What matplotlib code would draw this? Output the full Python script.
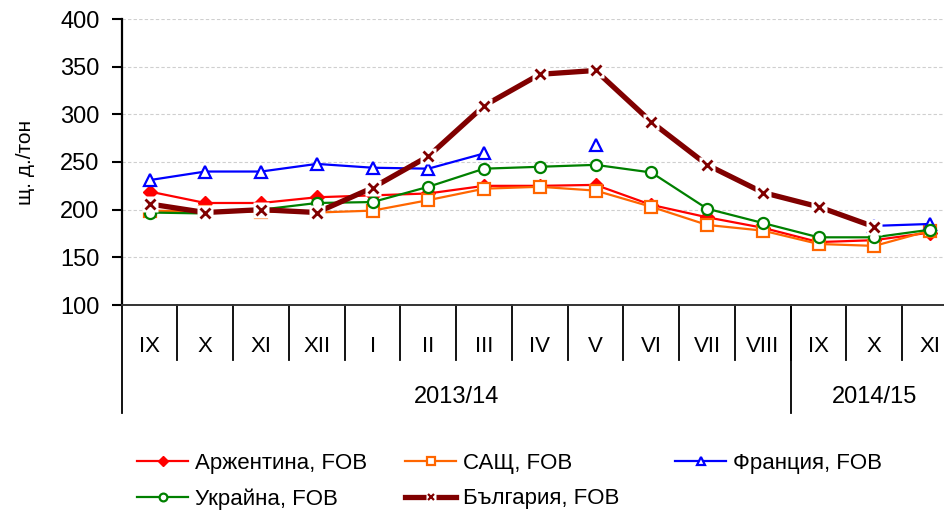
import numpy as np
import matplotlib
matplotlib.use("Agg")
import matplotlib.pyplot as plt
from matplotlib.lines import Line2D

plt.rcParams["font.family"] = ["Liberation Sans Narrow", "Liberation Sans", "DejaVu Sans"]

months = ["IX", "X", "XI", "XII", "I", "II", "III", "IV", "V", "VI", "VII", "VIII", "IX", "X", "XI"]
seasons = ["2013/14", "2014/15"]
season_len = [12, 3]

nan = np.nan
argentina = [219, 207, 207, 213, 215, 217, 225, 225, 226, 205, 192, 181, 166, 168, 176]
usa = [199, 198, 198, 197, 199, 210, 222, 224, 220, 203, 184, 178, 164, 162, 178]
france = [231, 240, 240, 248, 244, 243, 259, nan, 268, nan, nan, nan, nan, 183, 185]
ukraine = [197, 196, 200, 207, 208, 224, 243, 245, 247, 239, 201, 186, 171, 171, 179]
bulgaria = [206, 197, 200, 197, 223, 256, 309, 342, 346, 292, 247, 218, 203, 182, nan]

labels = ["Аржентина, FOB", "САЩ, FOB", "Франция, FOB", "Украйна, FOB", "България, FOB"]

W, H = 944, 519
fig = plt.figure(figsize=(W / 100, H / 100), dpi=100)
# plot area runs a little past the right edge, as in the source
ax = fig.add_axes([121.7 / W, 1 - 305 / H, 836.3 / W, 286 / H])

x = np.arange(len(months))
fs = 16

l_arg, = ax.plot(x, argentina, color="#FF0000", lw=1.6, marker="D", ms=7,
                 mfc="#FF0000", mec="#FF0000", zorder=3)
l_usa, = ax.plot(x, usa, color="#FF6600", lw=1.6, marker="s", ms=8,
                 mfc="white", mec="#FF6600", mew=1.6, zorder=4)
l_fra, = ax.plot(x, france, color="#0000FF", lw=1.6, marker="^", ms=9,
                 mfc="white", mec="#0000FF", mew=1.6, zorder=5)
l_ukr, = ax.plot(x, ukraine, color="#008000", lw=1.6, marker="o", ms=8,
                 mfc="white", mec="#008000", mew=1.6, zorder=6)
l_bul, = ax.plot(x, bulgaria, color="#800000", lw=3.8, zorder=7)
# white box behind the x markers breaks the line around them
ax.plot(x, bulgaria, ls="none", marker="s", ms=11, mfc="white", mec="none", zorder=8)
ax.plot(x, bulgaria, ls="none", marker="x", ms=7, mew=2, color="#800000", zorder=9)

ax.set_xlim(-0.5, len(months) - 0.5)
ax.set_ylim(100, 400)
ax.set_yticks(np.arange(100, 401, 50))
ax.yaxis.grid(True, color="#cfcfcf", lw=0.8, ls=(0, (3, 2)))
ax.set_axisbelow(True)
ax.tick_params(axis="y", direction="out", length=7, width=1.5, labelsize=fs + 1, pad=9)
ax.set_xticks([])
for s in ["top", "right"]:
    ax.spines[s].set_visible(False)
ax.spines["left"].set_linewidth(1.6)
ax.spines["bottom"].set_linewidth(1.4)
ax.spines["bottom"].set_color("#333333")
ax.set_ylabel("щ. д./тон", fontsize=15, labelpad=18)

# category table under the axis
tr = ax.get_xaxis_transform()
month_bot = -55 / 286
year_bot = -108 / 286
for i, m in enumerate(months):
    ax.text(i, -41 / 286, m, transform=tr, ha="center", va="center", fontsize=fs)
for b in range(1, len(months)):
    ax.plot([b - 0.5, b - 0.5], [0, month_bot], transform=tr, color="black",
            lw=1.3, clip_on=False)
start = 0
for name, n in zip(seasons, season_len):
    ax.plot([start - 0.5, start - 0.5], [0, year_bot], transform=tr, color="black",
            lw=1.3, clip_on=False)
    ax.text(start + (n - 1) / 2, -92 / 286, name, transform=tr, ha="center",
            va="center", fontsize=fs + 1)
    start += n

# legend in three columns; Bulgaria entry shows line, white box and x together
bul_line = Line2D([], [], color="#800000", lw=3.8)
bul_box = Line2D([], [], ls="none", marker="s", ms=11, mfc="white", mec="none")
bul_x = Line2D([], [], ls="none", marker="x", ms=7, mew=1.6, color="#800000")
cols = [([l_arg, l_ukr], [labels[0], labels[3]], 137),
        ([l_usa, (bul_line, bul_box, bul_x)], [labels[1], labels[4]], 405),
        ([l_fra], [labels[2]], 675)]
for handles, labs, px in cols:
    fig.legend(handles, labs, loc="upper left",
               bbox_to_anchor=(px / W, 1 - 453 / H), frameon=False,
               fontsize=fs, handlelength=2.3, handletextpad=0.3,
               labelspacing=0.65, markerscale=0.7, borderpad=0,
               borderaxespad=0)

fig.savefig("out.png", dpi=100)
